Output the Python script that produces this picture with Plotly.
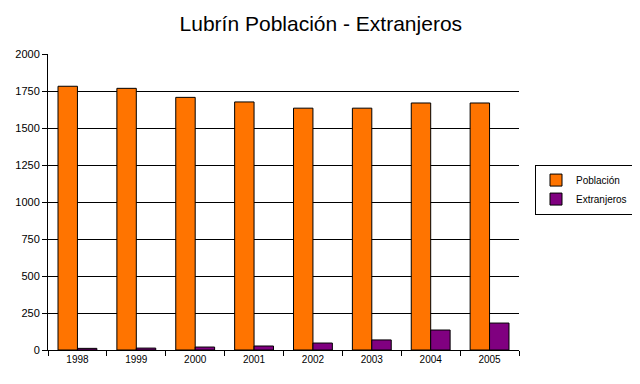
import plotly.graph_objects as go

years = ["1998", "1999", "2000", "2001", "2002", "2003", "2004", "2005"]
poblacion = [1782, 1768, 1707, 1676, 1634, 1634, 1669, 1669]
extranjeros = [11, 13, 20, 27, 47, 68, 135, 182]
y_ticks = [0, 250, 500, 750, 1000, 1250, 1500, 1750, 2000]

fig = go.Figure()
fig.add_trace(go.Bar(x=years, y=poblacion, name="Población",
                     marker=dict(color="#FF7400", line=dict(color="black", width=1))))
fig.add_trace(go.Bar(x=years, y=extranjeros, name="Extranjeros",
                     marker=dict(color="#800080", line=dict(color="black", width=1))))

fig.update_layout(
    width=632, height=376,
    margin=dict(l=40, r=121, t=46, b=34, autoexpand=False),
    paper_bgcolor="white", plot_bgcolor="white",
    font=dict(family="Liberation Sans, Arial, sans-serif", color="black", size=11),
    title=dict(text="Lubrín Población - Extranjeros", x=0.495, xref="container",
               xanchor="center", y=0.958, yanchor="middle",
               font=dict(size=21, family="Liberation Sans, Arial", color="black")),
    barmode="group", bargap=0.34, bargroupgap=0,
    legend=dict(x=1.034, y=0.542, xanchor="left", yanchor="middle",
                bordercolor="black", borderwidth=1, bgcolor="white",
                font=dict(size=10, family="Liberation Sans, Arial"),
                itemwidth=30, tracegroupgap=0),
    showlegend=True,
)
fig.update_xaxes(type="category", showline=True, linecolor="black", linewidth=1,
                 ticks="outside", tickson="boundaries", ticklen=5, tickcolor="black",
                 showgrid=False, tickfont=dict(size=10), automargin=False)
fig.update_yaxes(range=[0, 2000], tickvals=y_ticks, showline=True, linecolor="black",
                 linewidth=1, ticks="outside", ticklen=5, tickcolor="black",
                 showgrid=True, gridcolor="black", gridwidth=1, zeroline=False,
                 tickfont=dict(size=11), automargin=False)

fig.write_html("out.html")
